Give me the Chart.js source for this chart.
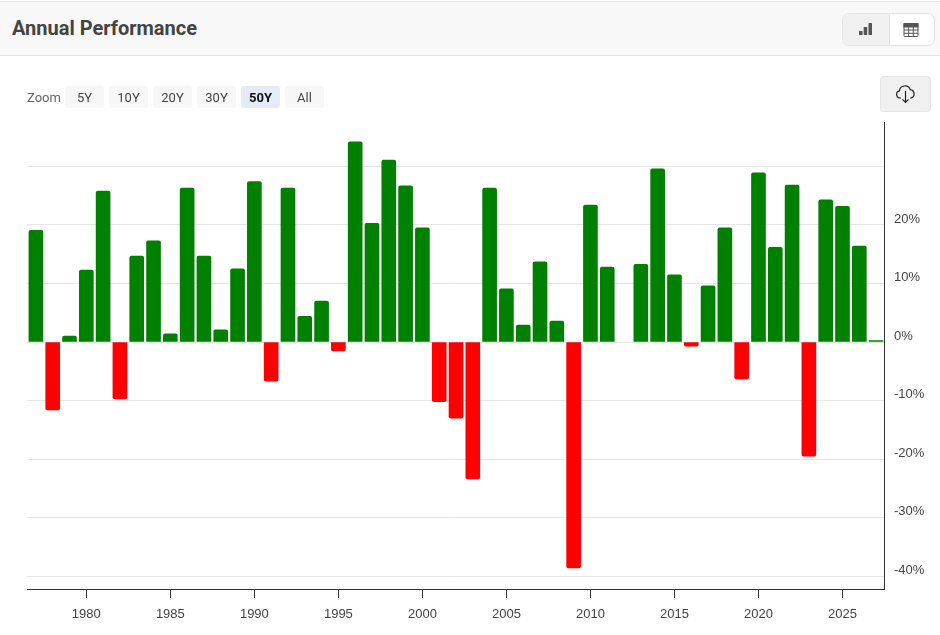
<!DOCTYPE html>
<html>
<head>
<meta charset="utf-8">
<title>Annual Performance</title>
<script src="https://cdn.jsdelivr.net/npm/chart.js@4"></script>
<style>
  html, body { margin: 0; padding: 0; background: #fff; }
  body { width: 940px; height: 635px; position: relative; overflow: hidden; font-family: Roboto, sans-serif; }
  #chart { position: absolute; left: 0; top: 0; }
  .header { position: absolute; left: 0; top: 1px; width: 940px; height: 53px; background: #f8f8f8; border-top: 1px solid #e5e5e5; border-bottom: 1px solid #e2e2e2; }
  .title { position: absolute; left: 12px; top: 13px; font-size: 20px; line-height: 26px; font-weight: 700; color: #444; }
  .toggle { position: absolute; left: 842px; top: 11px; width: 91px; height: 31px; border: 1px solid #e3e3e3; border-radius: 7px; overflow: hidden; background: #fff; }
  .toggle div { position: absolute; top: 0; height: 31px; }
  .toggle svg { position: absolute; }
  .zoom-label { position: absolute; left: 27px; top: 89px; font-size: 13px; line-height: 17px; color: #666; }
  .zoom-btn { position: absolute; top: 86px; width: 39px; height: 22px; line-height: 23px; text-align: center; font-size: 13px; color: #444; background: #f7f7f7; border-radius: 3px; }
  .zoom-btn.on { background: #e6ebfa; color: #111; font-weight: 700; }
  .download { position: absolute; left: 880px; top: 76px; width: 49px; height: 34px; background: #f0f0f0; border: 1px solid #e4e4e4; border-radius: 4px; }
</style>
</head>
<body>
<canvas id="chart" width="940" height="635"></canvas>

<div class="header">
  <div class="title">Annual Performance</div>
  <div class="toggle">
    <div style="left:0;width:46px;background:#f0f0f0;border-right:1px solid #e3e3e3">
      <svg style="left:15px;top:8px" width="15" height="14" viewBox="0 0 15 14" fill="#555">
        <rect x="1" y="9" width="3.5" height="4" rx="0.5"/><rect x="5.7" y="5" width="3.5" height="8" rx="0.5"/><rect x="10.5" y="1" width="3.5" height="12" rx="0.5"/>
      </svg>
    </div>
    <div style="left:47px;width:44px">
      <svg style="left:13px;top:8px" width="16" height="16" viewBox="0 0 16 16" fill="none" stroke="#555" stroke-width="1">
        <rect x="1" y="1.5" width="14" height="13" rx="1"/><rect x="1" y="1.5" width="14" height="3.5" fill="#555"/>
        <path d="M1 8h14M1 11.3h14M5.7 5v9.5M10.3 5v9.5"/>
      </svg>
    </div>
  </div>
</div>

<div class="zoom-label">Zoom</div>
<div id="zoomButtons"></div>

<div class="download">
  <svg style="position:absolute;left:14px;top:6px" width="21" height="22" viewBox="0 0 21 22" fill="none" stroke="#222" stroke-width="1.2">
    <path d="M6 15H5a3.6 3.6 0 0 1-.6-7.1A5.6 5.6 0 0 1 15.2 6.6 4.3 4.3 0 0 1 16 15h-1"/>
    <path d="M10.5 8v11M7.5 16.3l3 3 3-3"/>
  </svg>
</div>

<script>
  const years = [1977, 1978, 1979, 1980, 1981, 1982, 1983, 1984, 1985, 1986, 1987, 1988, 1989, 1990, 1991, 1992, 1993,
    1994, 1995, 1996, 1997, 1998, 1999, 2000, 2001, 2002, 2003, 2004, 2005, 2006, 2007, 2008, 2009, 2010, 2011, 2012,
    2013, 2014, 2015, 2016, 2017, 2018, 2019, 2020, 2021, 2022, 2023, 2024, 2025, 2026, 2027];
  const returns = [19.1, -11.6, 1.0, 12.3, 25.8, -9.7, 14.7, 17.3, 1.4, 26.3, 14.7, 2.1, 12.5, 27.4, -6.7, 26.3, 4.4,
    7.0, -1.5, 34.2, 20.3, 31.1, 26.7, 19.5, -10.2, -13.0, -23.4, 26.3, 9.1, 2.9, 13.7, 3.6, -38.6, 23.4, 12.8, null,
    13.3, 29.6, 11.5, -0.7, 9.6, 19.5, -6.3, 28.9, 16.2, 26.8, -19.5, 24.3, 23.2, 16.4, 0.25];
  const xTicks = [1980, 1985, 1990, 1995, 2000, 2005, 2010, 2015, 2020, 2025];
  const yTicks = [-40, -30, -20, -10, 0, 10, 20, 30];
  const yLabelled = [-40, -30, -20, -10, 0, 10, 20];
  const zoomLabels = ["5Y", "10Y", "20Y", "30Y", "50Y", "All"];
  const zoomActive = "50Y";

  // html range buttons above the plot
  const zoomBox = document.getElementById("zoomButtons");
  zoomLabels.forEach(function (label, i) {
    const btn = document.createElement("div");
    btn.className = "zoom-btn" + (label === zoomActive ? " on" : "");
    btn.style.left = (65 + i * 44) + "px";
    btn.textContent = label;
    zoomBox.appendChild(btn);
  });

  const tickFont = { family: "'Liberation Sans', Arial, sans-serif", size: 13 };

  new Chart(document.getElementById("chart"), {
    type: "bar",
    data: {
      datasets: [
        {
          data: years.map(function (y, i) { return { x: y, y: returns[i] }; }),
          backgroundColor: returns.map(function (v) { return v < 0 ? "#ff0000" : "#008000"; }),
          barThickness: 14,
          borderRadius: 2,
          borderSkipped: "start"
        }
      ]
    },
    options: {
      responsive: false,
      animation: false,
      devicePixelRatio: 1,
      layout: { padding: { left: 27, top: 122, right: 0, bottom: 0 } },
      plugins: { legend: { display: false }, tooltip: { enabled: false } },
      scales: {
        x: {
          type: "linear",
          offset: false,
          min: 1976.47,
          max: 2027.47,
          afterBuildTicks: function (scale) {
            scale.ticks = xTicks.map(function (v) { return { value: v }; });
          },
          afterFit: function (scale) { scale.height = 46; },
          border: { color: "#333", width: 1 },
          grid: { offset: false, drawOnChartArea: false, tickColor: "#333", tickLength: 9 },
          ticks: {
            autoSkip: false,
            maxRotation: 0,
            color: "#444",
            font: tickFont,
            padding: 9,
            callback: function (v) { return String(v); }
          }
        },
        y: {
          position: "right",
          min: -42.2,
          max: 37.6,
          afterBuildTicks: function (scale) {
            scale.ticks = yTicks.map(function (v) { return { value: v }; });
          },
          afterFit: function (scale) { scale.width = 56; },
          border: { color: "#333", width: 1 },
          grid: { color: "#e6e6e6", drawTicks: false },
          ticks: {
            autoSkip: false,
            color: "#444",
            font: tickFont,
            padding: 10,
            labelOffset: -6,
            callback: function (v) { return yLabelled.includes(v) ? v + "%" : ""; }
          }
        }
      }
    }
  });
</script>
</body>
</html>
